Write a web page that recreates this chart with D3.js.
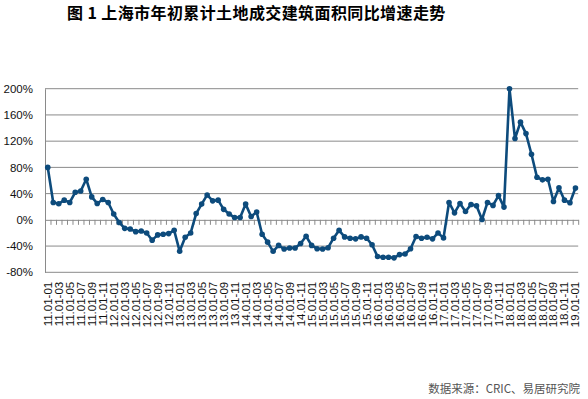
<!DOCTYPE html>
<html>
<head>
<meta charset="utf-8">
<script src="https://cdn.jsdelivr.net/npm/d3@7/dist/d3.min.js"></script>
<style>
  body { margin: 0; background: #fff; }
  svg { display: block; }
</style>
</head>
<body>
<div class="container"></div>
<script>
// years and months of the cumulative periods (Jan to month)
var years = ['11', '12', '13', '14', '15', '16', '17', '18', '19'];
var months = ['01', '02', '03', '04', '05', '06', '07', '08', '09', '10', '11', '12'];

// YoY growth of cumulative land transaction floor area, %
var growth = [
    80, 26.5, 24.5, 30, 26.5, 42, 44, 62, 35, 25, 31, 26.5,
    9, -4, -13, -14, -18, -17, -20, -31, -23, -22, -21, -16,
    -48, -26.5, -20, 9.5, 24, 38, 29, 30, 16, 9, 3.5, 3.5,
    24, 5, 12, -22, -34, -48, -39, -44.5, -43, -43, -36, -25,
    -39, -44, -44.5, -42.5, -28, -16, -26, -28, -29, -26, -28, -38,
    -56, -57, -57, -58, -53, -52, -44, -25.5, -28, -26.5, -29, -20,
    -27.5, 26.5, 10.7, 25, 12.8, 23.5, 21.4, 0.5, 26.5, 22, 37, 19.4,
    200, 124, 149, 131.5, 100, 65, 61, 62, 28, 49, 30, 26,
    48.5
];

var yTicks = [-80, -40, 0, 40, 80, 120, 160, 200];

var titleText = '图 1 上海市年初累计土地成交建筑面积同比增速走势';
var sourceText = '数据来源：CRIC、易居研究院';

// build category labels like "11.01-03"
var categories = [];
years.forEach(function (yy) {
    months.forEach(function (m) {
        if (categories.length < growth.length) categories.push(yy + '.01-' + m);
    });
});

var width = 588, height = 399;
var plotLeft = 45, plotRight = 578.2, plotTop = 88.7, plotBottom = 272.3;
var lineColor = '#0d4b7c';
var gridColor = '#8a8a8a';

var svg = d3.select('.container').append('svg')
    .attr('width', width).attr('height', height);

var x = d3.scaleBand().domain(categories).range([plotLeft, plotRight]).padding(0);
var xIdx = d3.scaleLinear().domain([0, categories.length]).range([plotLeft, plotRight]);
var y = d3.scaleLinear().domain([-80, 200]).range([plotBottom, plotTop]);

// gridlines
svg.append('g').selectAll('line')
    .data(yTicks.filter(function (d) { return d !== 0; }))
    .enter().append('line')
    .attr('x1', plotLeft).attr('x2', plotRight)
    .attr('y1', function (d) { return y(d); })
    .attr('y2', function (d) { return y(d); })
    .attr('stroke', gridColor).attr('stroke-width', 1);

// y axis
var yAxis = svg.append('g')
    .attr('transform', 'translate(' + plotLeft + ',0)')
    .call(d3.axisLeft(y).tickValues(yTicks).tickSize(0).tickPadding(12)
        .tickFormat(function (d) { return d + '%'; }));
yAxis.select('.domain').attr('stroke', gridColor);
yAxis.selectAll('text')
    .attr('fill', '#111')
    .style('font-family', '"Liberation Sans", Arial, sans-serif')
    .style('font-size', '11.5px');

// zero line with tick marks between categories
var zeroAxis = svg.append('g')
    .attr('transform', 'translate(0,' + y(0) + ')')
    .call(d3.axisBottom(xIdx).tickValues(d3.range(0, categories.length + 1))
        .tickSize(5).tickSizeOuter(0).tickFormat(''));
zeroAxis.select('.domain').attr('stroke', gridColor);
zeroAxis.selectAll('.tick line').attr('stroke', gridColor);

// category labels at the bottom
var xAxis = svg.append('g')
    .attr('transform', 'translate(0,' + plotBottom + ')')
    .call(d3.axisBottom(x)
        .tickValues(categories.filter(function (d, i) { return i % 2 === 0; }))
        .tickSize(0));
xAxis.select('.domain').remove();
xAxis.selectAll('text')
    .attr('transform', 'rotate(-90)')
    .attr('x', -9.5).attr('y', 0).attr('dy', '0.35em')
    .style('text-anchor', 'end')
    .attr('fill', '#111')
    .style('font-family', '"Liberation Sans", Arial, sans-serif')
    .style('font-size', '11.5px');

// series line and markers
var cx = function (d, i) { return x(categories[i]) + x.bandwidth() / 2; };
var line = d3.line()
    .x(cx)
    .y(function (d) { return y(d); });

svg.append('path')
    .datum(growth)
    .attr('d', line)
    .attr('fill', 'none')
    .attr('stroke', lineColor)
    .attr('stroke-width', 2.6)
    .attr('stroke-linejoin', 'round');

svg.append('g').selectAll('circle')
    .data(growth)
    .enter().append('circle')
    .attr('cx', cx)
    .attr('cy', function (d) { return y(d); })
    .attr('r', 2.8)
    .attr('fill', lineColor);

// title
svg.append('text')
    .attr('x', 67).attr('y', 19)
    .attr('fill', '#000')
    .style('font-family', '"Noto Sans CJK SC", sans-serif')
    .style('font-weight', 'bold')
    .style('font-size', '16px')
    .style('letter-spacing', '0.4px')
    .style('white-space', 'pre')
    .text(titleText);

// source note
svg.append('text')
    .attr('x', 580).attr('y', 393)
    .attr('text-anchor', 'end')
    .attr('fill', '#555')
    .style('font-family', '"Noto Sans CJK SC", sans-serif')
    .style('font-size', '11.5px')
    .text(sourceText);
</script>
</body>
</html>
